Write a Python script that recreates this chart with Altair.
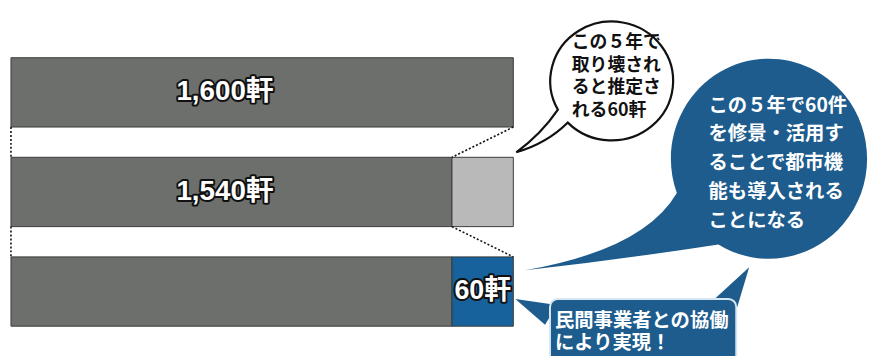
import altair as alt
import pandas as pd

# ---- data ----
rows = [0, 1, 2]
base_values = [1600, 1540, 1540]
extra_values = [0, 60, 60]
extra_kinds = ["none", "demolished", "utilized"]
base_labels = ["1,600軒", "1,540軒", ""]
extra_labels = ["", "", "60軒"]

bubble_demolish = ["この５年で", "取り壊され", "ると推定さ", "れる60軒"]
bubble_utilize = ["この５年で60件", "を修景・活用す", "ることで都市機", "能も導入される", "ことになる"]
box_text = ["民間事業者との協働", "により実現！"]

DARK = "#6c6f6c"
LIGHT = "#b9b9b9"
BLUE = "#17629c"
BUBBLE_BLUE = "#1d5c8d"
HALF = 0.348
CJK = "Noto Sans CJK JP"
LABEL_FONT = "Liberation Sans, Noto Sans CJK JP"

# ---- tables built from the arrays ----
seg = []
for r, b, e, k in zip(rows, base_values, extra_values, extra_kinds):
    seg.append({"row": r, "start": 0, "end": b, "kind": "base"})
    if e > 0:
        seg.append({"row": r, "start": b, "end": b + e, "kind": k})
seg = pd.DataFrame(seg)

lab = []
for r, b, e, bl, el in zip(rows, base_values, extra_values, base_labels, extra_labels):
    if bl:
        lab.append({"row": r, "text": bl, "kind": "base", "mid": b})
    if el:
        lab.append({"row": r, "text": el, "kind": "extra", "mid": b + e / 2})
lab = pd.DataFrame(lab)

conn = []
for i in range(len(rows) - 1):
    top_end = base_values[i] + extra_values[i]
    nxt_end = base_values[i + 1] + extra_values[i + 1]
    if i == 0:
        conn.append({"x": top_end, "x2": base_values[i + 1], "y": rows[i] + HALF, "y2": rows[i + 1] - HALF})
    else:
        conn.append({"x": base_values[i], "x2": nxt_end, "y": rows[i] + HALF, "y2": rows[i + 1] - HALF})
    conn.append({"x": 0, "x2": 0, "y": rows[i] + HALF, "y2": rows[i + 1] - HALF})
conn = pd.DataFrame(conn)

xs = alt.Scale(domain=[1109, 1600], range=[3, 510], clamp=True, zero=False, nice=False)
ys = alt.Scale(domain=[0, 2], range=[83.5, 284.5], zero=False, nice=False)

bars = alt.Chart(seg).transform_calculate(
    y0=f"datum.row - {HALF}", y1=f"datum.row + {HALF}"
).mark_rect(stroke="#3b3b3b", strokeWidth=1).encode(
    x=alt.X("start:Q", scale=xs, axis=None),
    x2="end:Q",
    y=alt.Y("y0:Q", scale=ys, axis=None),
    y2="y1:Q",
    color=alt.Color("kind:N", scale=alt.Scale(domain=["base", "demolished", "utilized"],
                                              range=[DARK, LIGHT, BLUE]), legend=None),
)

rules = alt.Chart(conn).mark_rule(color="#111", strokeWidth=1.6, strokeDash=[2, 2]).encode(
    x=alt.X("x:Q", scale=xs, axis=None), x2="x2:Q",
    y=alt.Y("y:Q", scale=ys, axis=None), y2="y2:Q",
)

base_lab = lab[lab.kind == "base"]
extra_lab = lab[lab.kind == "extra"]

def outlined(df, xenc, size):
    common = dict(font=LABEL_FONT, fontSize=size, fontWeight="bold", align="center", baseline="middle")
    enc = dict(x=xenc, y=alt.Y("row:Q", scale=ys, axis=None), text="text:N")
    back = alt.Chart(df).mark_text(fill="white", stroke="#111", strokeWidth=4,
                                   strokeJoin="round", **common).encode(**enc)
    front = alt.Chart(df).mark_text(fill="white", **common).encode(**enc)
    return back + front

lab1 = outlined(base_lab, alt.value(219), 28)
lab2 = outlined(extra_lab, alt.X("mid:Q", scale=xs, axis=None), 27)

one = pd.DataFrame({"a": [0]})

white_bubble = alt.Chart(one).mark_point(
    shape="M -45 42 A 62 60 0 1 0 -55 29 Q -72 54 -97 72 Q -66 63 -45 42 Z",
    size=4, filled=True, fill="white", stroke="#111", strokeWidth=2.2, opacity=1,
).encode(x=alt.value(610), y=alt.value(72))

blue_bubble = alt.Chart(one).mark_point(
    shape="M -53 81 A 99 101 0 1 0 -95 29 Q -128 86 -248 107 Q -150 96 -53 81 Z",
    size=4, filled=True, fill=BUBBLE_BLUE, strokeWidth=0, opacity=1,
).encode(x=alt.value(770), y=alt.value(156))

tail_left = alt.Chart(one).mark_point(
    shape="M 0 0 L 42 6 L 30 26 Z", size=4, filled=True, fill=BUBBLE_BLUE, strokeWidth=0, opacity=1,
).encode(x=alt.value(512), y=alt.value(292))

tail_right = alt.Chart(one).mark_point(
    shape="M 0 0 L -36 33 L -12 40 Z", size=4, filled=True, fill=BUBBLE_BLUE, strokeWidth=0, opacity=1,
).encode(x=alt.value(748), y=alt.value(260))

box = alt.Chart(one).mark_rect(
    fill=BUBBLE_BLUE, stroke="#d6e6f2", strokeWidth=2, cornerRadius=8,
).encode(x=alt.value(547), x2=alt.value(735), y=alt.value(292), y2=alt.value(358))

t_white = alt.Chart(one).mark_text(
    font=CJK, fontSize=18, fontWeight="bold", color="#111", align="left", baseline="top",
    lineHeight=22.8,
).encode(x=alt.value(569), y=alt.value(25), text=alt.value(bubble_demolish))

t_blue = alt.Chart(one).mark_text(
    font=CJK, fontSize=19.5, fontWeight="bold", color="white", align="left", baseline="top",
    lineHeight=29,
).encode(x=alt.value(707), y=alt.value(88), text=alt.value(bubble_utilize))

t_box = alt.Chart(one).mark_text(
    font=CJK, fontSize=19.5, fontWeight="bold", color="white", align="left", baseline="top",
    lineHeight=23,
).encode(x=alt.value(552), y=alt.value(305), text=alt.value(box_text))

chart = alt.layer(
    bars, rules, lab1, lab2, white_bubble, blue_bubble, tail_left, tail_right, box,
    t_white, t_blue, t_box,
).properties(width=873, height=348, padding=0, background="white").configure_view(stroke=None)

chart.save("out.html", embed_options={"renderer": "svg", "actions": False})
